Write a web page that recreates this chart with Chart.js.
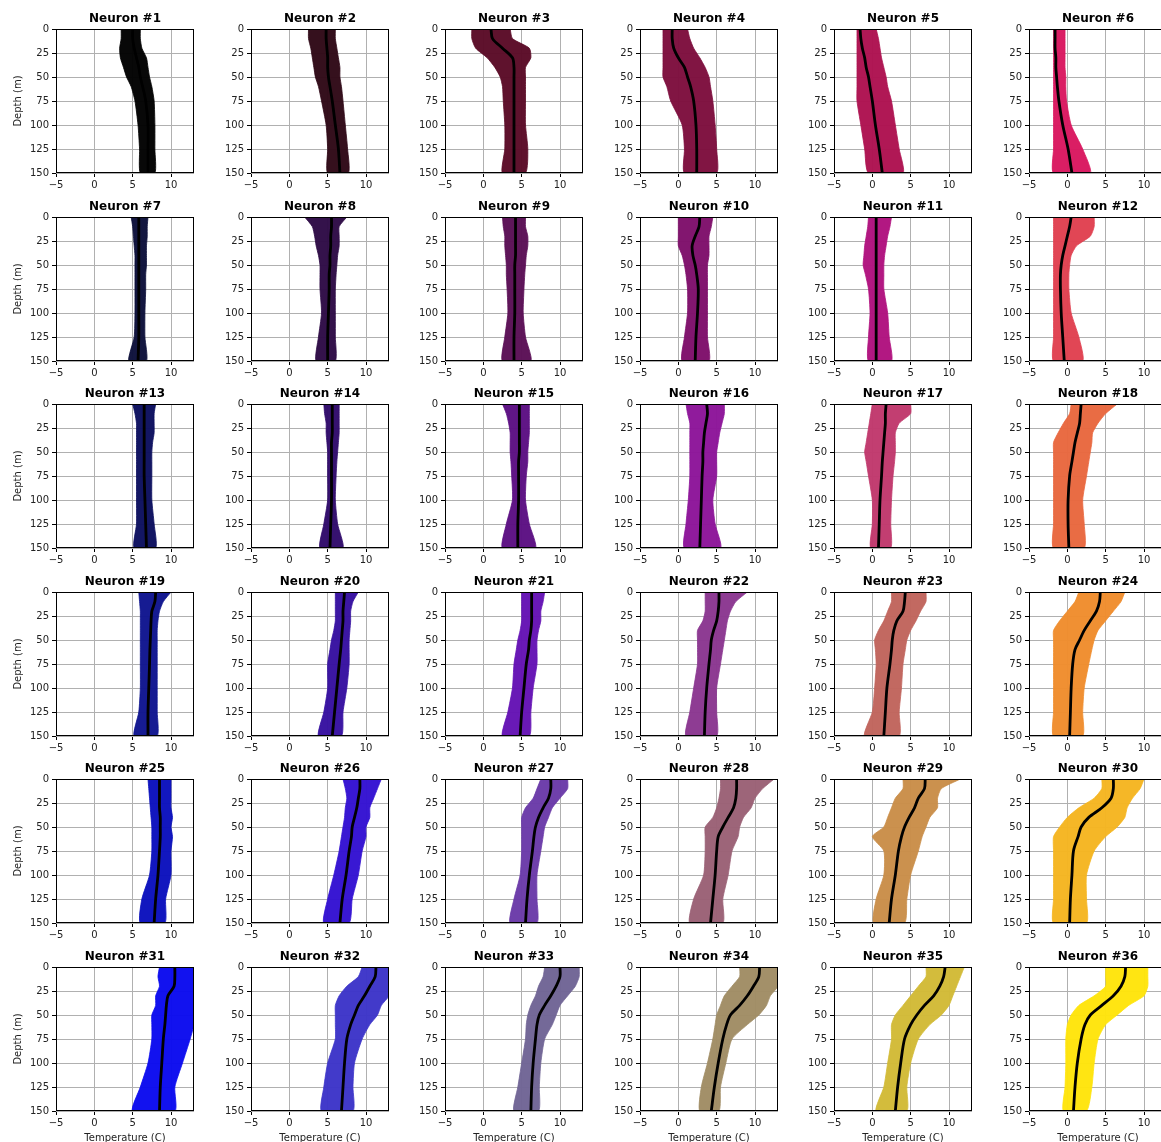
<!DOCTYPE html>
<html>
<head>
<meta charset="utf-8">
<title>Neuron temperature profiles</title>
<script src="https://cdn.jsdelivr.net/npm/chart.js@4/dist/chart.umd.min.js"></script>
<style>
  html, body { margin: 0; padding: 0; background: #fff; overflow: hidden; }
  #grid { position: relative; width: 1161px; height: 1142px; overflow: hidden; background: #fff; }
  #grid canvas { position: absolute; }
</style>
</head>
<body>
<div id="grid"></div>
<script>
// Depth levels (m) at which each profile is sampled
const depths = [0, 10, 20, 30, 40, 50, 60, 75, 100, 125, 150];
const xTicks = [-5, 0, 5, 10];
const yTicks = [0, 25, 50, 75, 100, 125, 150];
const xRange = [-5, 13];
const yRange = [0, 150];

const neuronColors = [
  '#000000', '#2e0816', '#5a0a26', '#7d0d3d', '#ad1150', '#d9175f',
  '#0c0f3a', '#2d0a45', '#5a0e55', '#7e0e6a', '#b0117e', '#e04050',
  '#0b0e5e', '#2f0a6a', '#5b0e82', '#8c1499', '#c0386c', '#e8673e',
  '#0e148e', '#3610a0', '#6412b4', '#8a3690', '#c0645c', '#ef8c2c',
  '#0a10bd', '#3311d2', '#6a3aa8', '#9a6075', '#c98d48', '#f5b520',
  '#0a0aee', '#3c34c8', '#706495', '#a08c64', '#d2ba36', '#ffe40a'
];

// Mean temperature profile (C) of each neuron, one value per depth level
const meanProfiles = [
  [5.0, 5.0, 5.2, 5.5, 5.8, 6.0, 6.3, 6.7, 7.0, 7.0, 7.0],
  [4.8, 4.8, 4.9, 5.0, 5.0, 5.1, 5.3, 5.6, 6.0, 6.4, 6.6],
  [1.0, 1.2, 2.5, 3.8, 4.0, 4.0, 4.0, 4.0, 4.0, 4.0, 4.0],
  [-0.8, -0.8, -0.6, 0.0, 0.8, 1.2, 1.6, 2.0, 2.3, 2.4, 2.4],
  [-1.6, -1.5, -1.3, -1.0, -0.8, -0.5, -0.3, 0.0, 0.4, 0.9, 1.3],
  [-1.6, -1.6, -1.6, -1.5, -1.5, -1.4, -1.3, -1.1, -0.6, 0.1, 0.6],
  [5.8, 5.8, 5.8, 5.8, 5.8, 5.8, 5.8, 5.8, 5.8, 5.8, 5.7],
  [5.5, 5.5, 5.4, 5.4, 5.3, 5.3, 5.2, 5.2, 5.1, 5.0, 5.0],
  [4.2, 4.2, 4.2, 4.2, 4.2, 4.1, 4.1, 4.1, 4.1, 4.0, 4.0],
  [2.8, 2.7, 2.2, 1.8, 1.9, 2.2, 2.4, 2.6, 2.5, 2.3, 2.2],
  [0.5, 0.5, 0.5, 0.5, 0.5, 0.5, 0.5, 0.5, 0.5, 0.5, 0.5],
  [0.5, 0.3, 0.0, -0.3, -0.6, -0.8, -0.9, -0.9, -0.8, -0.6, -0.4],
  [6.5, 6.5, 6.5, 6.5, 6.5, 6.5, 6.5, 6.5, 6.6, 6.7, 6.8],
  [5.6, 5.6, 5.6, 5.6, 5.5, 5.5, 5.5, 5.5, 5.5, 5.4, 5.3],
  [4.7, 4.7, 4.7, 4.7, 4.7, 4.7, 4.6, 4.6, 4.6, 4.5, 4.5],
  [3.7, 3.8, 3.6, 3.4, 3.3, 3.2, 3.2, 3.1, 3.0, 2.9, 2.8],
  [1.8, 1.7, 1.7, 1.6, 1.5, 1.4, 1.3, 1.2, 1.0, 0.9, 0.8],
  [1.8, 1.7, 1.6, 1.3, 1.0, 0.8, 0.6, 0.3, 0.1, 0.1, 0.2],
  [8.0, 7.9, 7.5, 7.4, 7.35, 7.3, 7.25, 7.2, 7.1, 7.0, 7.0],
  [7.2, 7.1, 7.0, 7.0, 6.9, 6.8, 6.7, 6.5, 6.2, 5.9, 5.6],
  [6.3, 6.3, 6.3, 6.3, 6.2, 6.0, 5.9, 5.6, 5.3, 5.0, 4.8],
  [5.3, 5.3, 5.2, 5.0, 4.6, 4.3, 4.2, 4.0, 3.7, 3.5, 3.4],
  [4.3, 4.2, 4.0, 3.2, 2.8, 2.6, 2.5, 2.3, 1.9, 1.7, 1.5],
  [4.3, 4.2, 3.8, 3.0, 2.2, 1.6, 1.0, 0.7, 0.5, 0.4, 0.3],
  [8.5, 8.5, 8.5, 8.5, 8.6, 8.6, 8.6, 8.5, 8.3, 8.0, 7.8],
  [9.2, 9.2, 9.0, 8.8, 8.5, 8.2, 8.1, 7.8, 7.4, 6.9, 6.6],
  [8.8, 8.8, 8.5, 7.8, 7.2, 6.8, 6.6, 6.4, 6.0, 5.7, 5.5],
  [7.6, 7.6, 7.5, 7.2, 6.5, 5.8, 5.2, 5.0, 4.8, 4.5, 4.2],
  [6.9, 6.8, 6.0, 5.5, 4.8, 4.2, 3.8, 3.4, 3.0, 2.5, 2.2],
  [6.0, 6.0, 5.7, 4.5, 2.8, 1.8, 1.4, 0.8, 0.6, 0.4, 0.3],
  [10.5, 10.5, 10.4, 9.6, 9.4, 9.3, 9.2, 9.0, 8.8, 8.6, 8.5],
  [11.3, 11.2, 10.5, 9.8, 9.0, 8.5, 8.0, 7.5, 7.2, 7.0, 6.8],
  [10.0, 10.0, 9.5, 8.8, 8.0, 7.3, 7.0, 6.8, 6.5, 6.3, 6.2],
  [10.6, 10.5, 9.8, 9.0, 8.0, 6.8, 6.3, 5.8, 5.2, 4.7, 4.3],
  [9.5, 9.3, 8.8, 8.0, 6.8, 5.8, 5.0, 4.2, 3.7, 3.3, 3.0],
  [7.6, 7.5, 7.0, 6.0, 4.5, 3.0, 2.3, 1.8, 1.3, 1.0, 0.8]
];

// Coldest member profile edge of each neuron (C)
const lowerEdges = [
  [3.5, 3.5, 3.3, 3.4, 3.8, 4.2, 4.8, 5.3, 5.7, 5.9, 6.0],
  [2.5, 2.5, 2.8, 3.0, 3.2, 3.4, 3.8, 4.2, 4.8, 5.0, 5.0],
  [-1.5, -1.5, -1.0, 0.5, 1.5, 2.2, 2.5, 2.6, 2.8, 2.8, 2.5],
  [-2.0, -2.0, -2.0, -2.0, -2.0, -2.0, -1.5, -1.0, 0.5, 0.8, 0.8],
  [-2.0, -2.0, -2.0, -2.0, -2.0, -2.0, -2.0, -2.0, -1.5, -1.0, -0.5],
  [-1.8, -1.8, -1.8, -1.8, -1.8, -1.8, -1.8, -1.8, -1.8, -1.8, -1.8],
  [4.8, 5.0, 5.1, 5.2, 5.3, 5.3, 5.3, 5.3, 5.3, 5.2, 4.5],
  [2.0, 3.0, 3.3, 3.5, 3.8, 4.0, 4.0, 4.0, 4.2, 3.8, 3.5],
  [2.5, 2.6, 2.8, 2.8, 2.9, 3.0, 3.0, 3.1, 3.2, 2.8, 2.5],
  [0.0, 0.0, 0.0, 0.0, 0.5, 0.8, 1.0, 1.2, 1.2, 0.8, 0.5],
  [-0.5, -0.6, -0.8, -1.0, -1.1, -1.2, -0.9, -0.5, -0.3, -0.5, -0.5],
  [-1.8, -1.8, -1.8, -1.8, -1.8, -1.8, -1.8, -1.8, -1.8, -1.8, -1.8],
  [5.0, 5.3, 5.5, 5.5, 5.5, 5.5, 5.5, 5.5, 5.5, 5.5, 5.2],
  [4.5, 4.6, 4.8, 4.8, 4.9, 5.0, 5.0, 5.0, 5.0, 4.5, 4.0],
  [2.5, 3.0, 3.3, 3.5, 3.5, 3.5, 3.6, 3.7, 3.8, 3.0, 2.5],
  [1.0, 1.2, 1.5, 1.5, 1.5, 1.5, 1.5, 1.5, 1.3, 1.0, 0.8],
  [0.0, -0.2, -0.4, -0.6, -0.8, -1.0, -0.8, -0.5, 0.0, 0.0, -0.2],
  [0.5, 0.3, -0.5, -1.2, -1.8, -1.8, -1.8, -1.8, -1.8, -1.8, -1.8],
  [5.8, 5.9, 6.0, 6.0, 6.0, 6.0, 6.0, 6.0, 6.0, 5.8, 5.2],
  [6.0, 6.0, 6.0, 6.0, 5.8, 5.5, 5.3, 5.0, 5.0, 4.5, 3.8],
  [5.0, 5.0, 5.0, 5.0, 4.8, 4.5, 4.3, 4.0, 3.8, 3.2, 2.5],
  [3.5, 3.5, 3.5, 3.2, 2.5, 2.5, 2.5, 2.5, 2.0, 1.5, 1.0],
  [2.5, 2.5, 2.0, 1.5, 0.8, 0.3, 0.4, 0.5, 0.3, 0.0, -1.0],
  [1.5, 1.0, 0.0, -1.0, -1.8, -1.8, -1.8, -1.8, -1.8, -1.8, -1.8],
  [7.0, 7.1, 7.2, 7.3, 7.4, 7.5, 7.5, 7.5, 7.2, 6.2, 6.0],
  [7.0, 7.3, 7.5, 7.3, 7.2, 7.0, 6.8, 6.5, 5.8, 5.0, 4.5],
  [7.5, 7.0, 6.5, 5.5, 5.0, 5.0, 5.0, 5.0, 4.8, 4.0, 3.5],
  [5.5, 5.5, 5.3, 5.0, 4.5, 3.5, 3.5, 3.5, 3.3, 2.0, 1.5],
  [4.0, 4.0, 3.0, 2.5, 2.0, 1.5, 0.0, 1.5, 1.5, 0.5, 0.2],
  [4.5, 4.5, 3.5, 1.5, 0.0, -1.0, -1.8, -1.8, -1.8, -1.8, -1.8],
  [8.5, 8.3, 8.5, 8.0, 8.0, 7.5, 7.5, 7.5, 7.0, 6.0, 5.0],
  [9.5, 9.0, 7.5, 6.5, 6.0, 6.0, 6.0, 6.0, 5.0, 4.5, 4.2],
  [8.0, 7.8, 7.2, 6.8, 6.2, 5.8, 5.6, 5.5, 5.0, 4.5, 4.0],
  [8.0, 8.0, 7.0, 6.0, 5.5, 5.0, 4.8, 4.5, 3.8, 3.0, 2.8],
  [7.0, 7.0, 6.0, 5.0, 4.0, 3.0, 2.5, 2.5, 2.0, 1.5, 0.5],
  [5.0, 5.0, 5.0, 3.5, 1.5, 0.5, 0.0, -0.2, -0.2, -0.3, -0.5]
];

// Warmest member profile edge of each neuron (C)
const upperEdges = [
  [6.0, 6.0, 6.2, 6.8, 7.0, 7.2, 7.5, 7.8, 7.9, 7.9, 7.9],
  [6.0, 6.0, 6.2, 6.4, 6.6, 6.6, 6.8, 7.0, 7.3, 7.6, 7.7],
  [3.5, 3.8, 6.0, 6.2, 5.5, 5.5, 5.5, 5.5, 5.5, 5.8, 5.5],
  [1.2, 1.5, 2.0, 2.8, 3.5, 4.0, 4.2, 4.5, 4.8, 5.0, 5.0],
  [0.5, 0.8, 1.0, 1.2, 1.5, 1.8, 2.0, 2.5, 3.0, 3.5, 4.0],
  [-0.3, -0.3, -0.3, -0.3, -0.3, -0.2, -0.2, -0.1, 0.5, 2.0, 3.0],
  [7.0, 6.9, 6.9, 6.8, 6.8, 6.8, 6.7, 6.7, 6.6, 6.6, 6.8],
  [7.5, 6.5, 6.5, 6.5, 6.3, 6.2, 6.1, 6.0, 6.0, 6.0, 6.0],
  [5.5, 5.5, 5.8, 5.8, 5.6, 5.5, 5.4, 5.3, 5.2, 5.5, 6.2],
  [4.5, 4.3, 4.0, 4.0, 4.0, 3.8, 3.8, 3.8, 3.8, 3.8, 4.0],
  [2.5, 2.3, 2.0, 1.8, 1.6, 1.5, 1.5, 1.5, 2.0, 2.2, 2.5],
  [3.5, 3.5, 3.0, 1.2, 0.5, 0.3, 0.2, 0.2, 0.5, 1.5, 2.0],
  [8.0, 7.8, 7.8, 7.8, 7.6, 7.5, 7.5, 7.5, 7.5, 7.8, 8.0],
  [6.5, 6.5, 6.5, 6.5, 6.4, 6.3, 6.2, 6.1, 6.0, 6.3, 7.0],
  [6.0, 6.0, 6.0, 6.0, 5.9, 5.8, 5.8, 5.6, 5.5, 6.0, 6.8],
  [6.0, 6.0, 5.7, 5.4, 5.2, 5.0, 5.0, 5.0, 4.5, 4.8, 5.5],
  [5.0, 5.0, 3.5, 3.0, 3.0, 3.0, 2.9, 2.7, 2.5, 2.4, 2.4],
  [6.5, 5.0, 4.0, 3.3, 3.2, 3.0, 2.8, 2.5, 2.0, 2.2, 2.2],
  [10.0, 9.0, 8.5, 8.3, 8.2, 8.2, 8.2, 8.2, 8.2, 8.2, 8.2],
  [9.0, 8.3, 8.0, 8.0, 7.9, 7.8, 7.8, 7.8, 7.5, 7.0, 6.8],
  [8.0, 7.8, 7.5, 7.5, 7.2, 7.0, 7.0, 7.0, 6.5, 6.2, 6.0],
  [9.0, 7.5, 6.8, 6.4, 6.2, 6.0, 5.8, 5.5, 5.0, 5.0, 5.0],
  [7.0, 7.0, 6.3, 5.7, 5.0, 4.5, 4.3, 4.0, 3.8, 3.5, 3.5],
  [7.5, 7.0, 6.0, 5.0, 4.0, 3.5, 3.2, 2.8, 2.2, 2.0, 2.0],
  [10.0, 10.0, 10.0, 10.0, 10.2, 10.0, 10.2, 10.0, 10.0, 9.3, 9.2],
  [12.0, 11.5, 11.0, 10.5, 10.5, 10.0, 10.0, 9.5, 9.0, 8.2, 7.8],
  [11.0, 11.0, 10.0, 9.0, 8.5, 8.0, 7.8, 7.5, 7.0, 7.0, 7.0],
  [12.5, 11.0, 10.0, 9.5, 8.5, 8.0, 7.8, 7.0, 6.5, 5.8, 5.8],
  [11.5, 9.0, 8.5, 8.5, 7.5, 7.0, 6.5, 6.0, 5.0, 4.5, 4.2],
  [10.0, 9.5, 8.5, 7.8, 7.5, 6.5, 5.0, 3.5, 2.5, 2.5, 2.5],
  [13.0, 13.0, 13.0, 13.0, 13.0, 13.0, 13.0, 12.5, 11.5, 10.5, 10.5],
  [13.0, 13.0, 13.0, 13.0, 12.0, 11.5, 10.5, 9.5, 8.5, 8.3, 8.3],
  [12.5, 12.5, 12.0, 11.0, 10.0, 9.5, 9.0, 8.0, 7.5, 7.3, 7.2],
  [13.0, 13.0, 13.0, 12.0, 11.5, 10.5, 9.0, 7.0, 6.2, 5.5, 5.3],
  [12.0, 11.5, 11.0, 10.5, 10.0, 9.0, 7.5, 6.0, 5.0, 4.5, 4.5],
  [10.5, 10.5, 10.5, 10.0, 8.0, 6.5, 5.0, 4.0, 3.5, 3.2, 2.5]
];

const neuronTitles = neuronColors.map((_, i) => 'Neuron #' + (i + 1));
const depthLabel = 'Depth (m)';
const tempLabel = 'Temperature (C)';

// Panel geometry (px)
const NCOLS = 6, NROWS = 6;
const PLOT_W = 138, PLOT_H = 144;
const COL_STEP = 194.5, ROW_STEP = 187.6;
const FIRST_LEFT = 56, FIRST_TOP = 29;
const TOP_M = 26, RIGHT_M = 8, BASE_LEFT_M = 44, BASE_BOTTOM_M = 22;

const FONT = "'DejaVu Sans', 'Liberation Sans', sans-serif";

function withAlpha(hex, a) {
  const n = parseInt(hex.slice(1), 16);
  return 'rgba(' + ((n >> 16) & 255) + ',' + ((n >> 8) & 255) + ',' + (n & 255) + ',' + a + ')';
}

// Closed frame around each axes box
const framePlugin = {
  id: 'frame',
  afterDatasetsDraw(chart) {
    const a = chart.chartArea;
    const ctx = chart.ctx;
    ctx.save();
    ctx.strokeStyle = '#000';
    ctx.lineWidth = 1;
    ctx.strokeRect(a.left + 0.5, a.top + 0.5, a.right - a.left - 1, a.bottom - a.top - 1);
    ctx.restore();
  }
};

// Bold title centred over each axes box
const panelTitlePlugin = {
  id: 'panelTitle',
  afterDraw(chart, args, opts) {
    const a = chart.chartArea;
    const ctx = chart.ctx;
    ctx.save();
    ctx.fillStyle = '#000';
    ctx.font = 'bold 12px ' + FONT;
    ctx.textAlign = 'center';
    ctx.textBaseline = 'middle';
    ctx.fillText(opts.text, (a.left + a.right) / 2, a.top - 10.5);
    ctx.restore();
  }
};

const grid = document.getElementById('grid');

for (let i = 0; i < neuronColors.length; i++) {
  const r = Math.floor(i / NCOLS), c = i % NCOLS;
  const plotLeft = Math.round(FIRST_LEFT + c * COL_STEP);
  const plotTop = Math.round(FIRST_TOP + r * ROW_STEP);
  const leftM = c === 0 ? plotLeft : BASE_LEFT_M;
  const bottomM = r === NROWS - 1 ? 36 : BASE_BOTTOM_M;
  const w = leftM + PLOT_W + RIGHT_M;
  const h = TOP_M + PLOT_H + bottomM;

  const canvas = document.createElement('canvas');
  canvas.width = w; canvas.height = h;
  canvas.style.width = w + 'px'; canvas.style.height = h + 'px';
  canvas.style.left = (plotLeft - leftM) + 'px';
  canvas.style.top = (plotTop - TOP_M) + 'px';
  grid.appendChild(canvas);

  const color = neuronColors[i];
  const band = depths.map((d, k) => ({ x: upperEdges[i][k], y: d }))
    .concat(depths.map((d, k) => ({ x: lowerEdges[i][k], y: d })).reverse());
  const mean = depths.map((d, k) => ({ x: meanProfiles[i][k], y: d }));

  new Chart(canvas, {
    type: 'line',
    data: {
      datasets: [
        {
          // spread of member profiles
          data: band,
          order: 2,
          borderColor: withAlpha(color, 0.8),
          borderWidth: 1,
          backgroundColor: withAlpha(color, 0.97),
          fill: 'shape',
          pointRadius: 0,
          tension: 0.2
        },
        {
          // mean profile, drawn on top
          data: mean,
          order: 1,
          borderColor: '#000',
          borderWidth: 2.8,
          fill: false,
          pointRadius: 0,
          tension: 0.3
        }
      ]
    },
    options: {
      responsive: false,
      animation: false,
      devicePixelRatio: 1,
      layout: { padding: { left: 0, right: RIGHT_M, top: TOP_M, bottom: 0 } },
      plugins: {
        legend: { display: false },
        tooltip: { enabled: false },
        title: { display: false },
        panelTitle: { text: neuronTitles[i] }
      },
      scales: {
        x: {
          type: 'linear',
          min: xRange[0], max: xRange[1],
          afterBuildTicks: s => { s.ticks = xTicks.map(v => ({ value: v })); },
          afterFit: s => { s.height = bottomM; },
          border: { display: false },
          grid: { color: '#b0b0b0', lineWidth: 1, drawTicks: true, tickLength: 4, tickColor: '#000' },
          ticks: {
            color: '#222', padding: 2, maxRotation: 0, autoSkip: false,
            font: { family: FONT, size: 10 },
            callback: v => (v < 0 ? '\u2212' + Math.abs(v) : String(v))
          },
          title: {
            display: r === NROWS - 1,
            text: tempLabel,
            color: '#222',
            font: { family: FONT, size: 10 },
            padding: { top: 0, bottom: 3 }
          }
        },
        y: {
          type: 'linear',
          reverse: true,
          min: yRange[0], max: yRange[1],
          afterBuildTicks: s => { s.ticks = yTicks.map(v => ({ value: v })); },
          afterFit: s => { s.width = leftM; },
          border: { display: false },
          grid: { color: '#b0b0b0', lineWidth: 1, drawTicks: true, tickLength: 4, tickColor: '#000' },
          ticks: {
            color: '#222', padding: 3, autoSkip: false,
            font: { family: FONT, size: 10 }
          },
          title: {
            display: c === 0,
            text: depthLabel,
            color: '#222',
            font: { family: FONT, size: 10 },
            padding: { top: 12, bottom: 0 }
          }
        }
      }
    },
    plugins: [framePlugin, panelTitlePlugin]
  });
}
</script>
</body>
</html>
